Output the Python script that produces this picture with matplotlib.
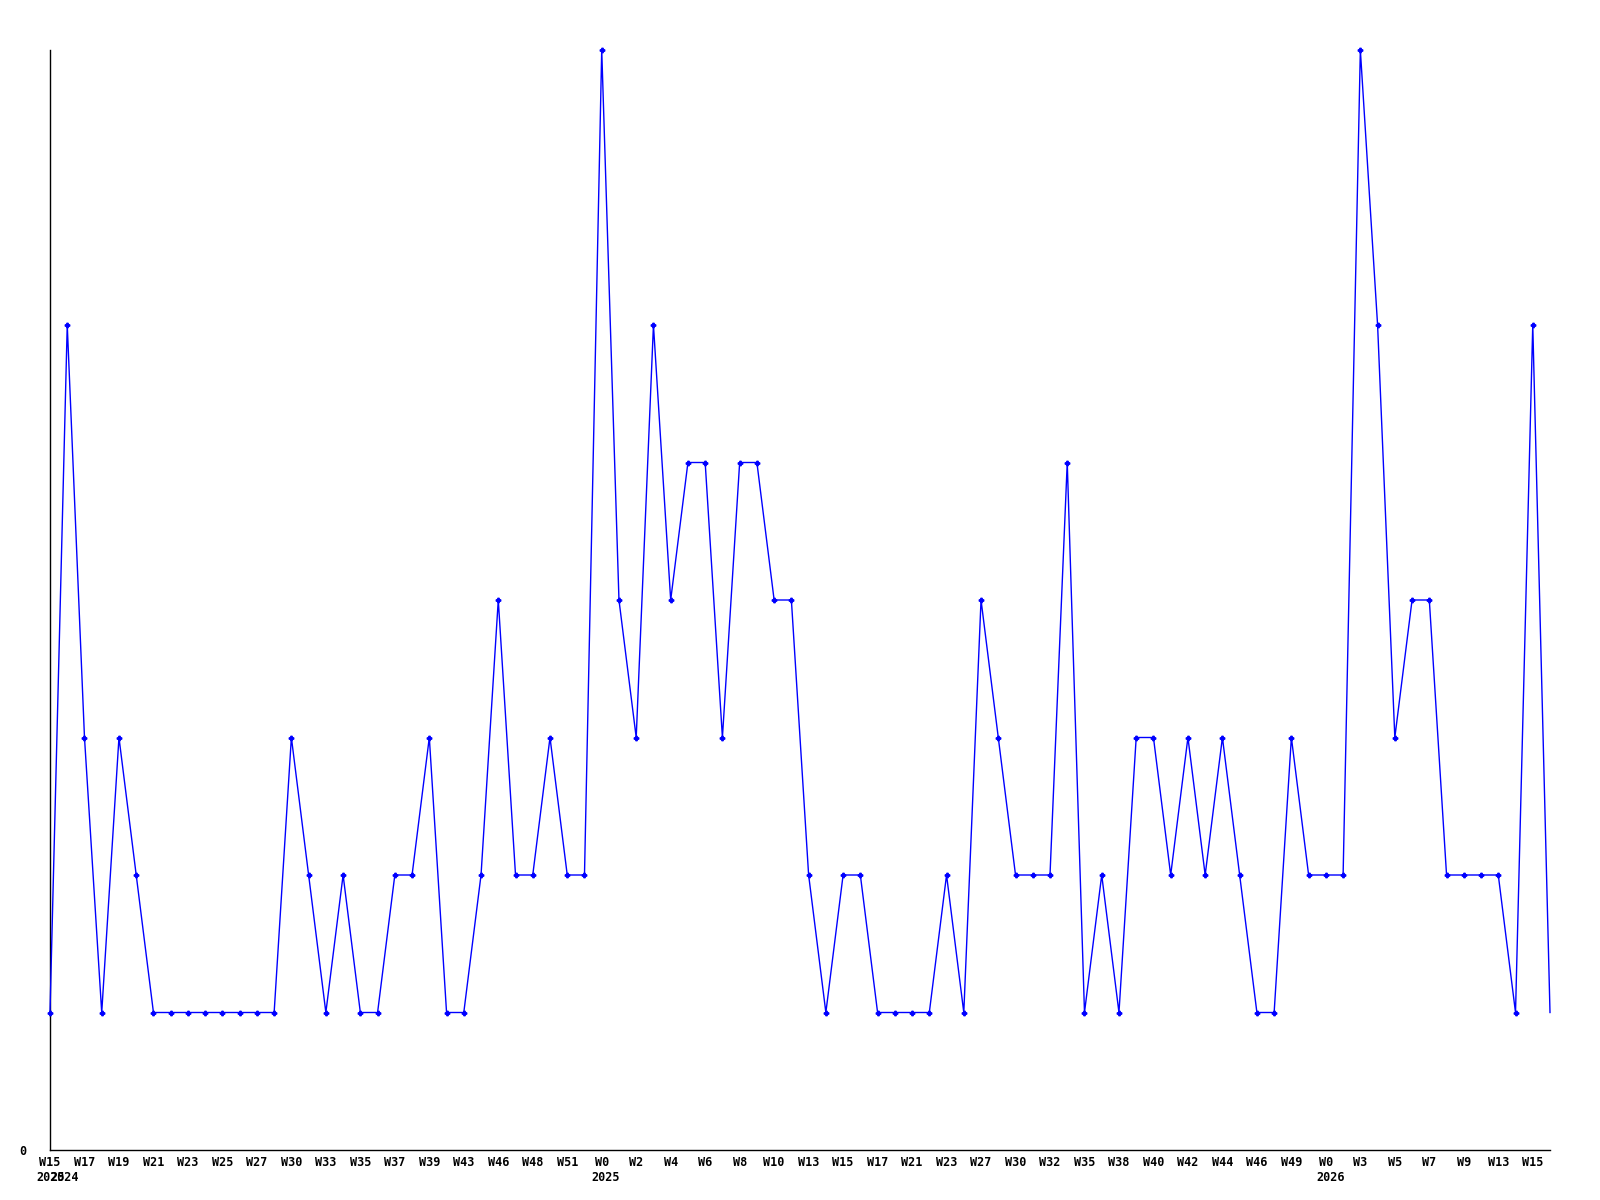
import matplotlib
matplotlib.use('Agg')
import matplotlib.pyplot as plt

# weekly counts (one point per week, last point is the running week)
values = [1, 6, 3, 1, 3, 2, 1, 1, 1, 1,
          1, 1, 1, 1, 3, 2, 1, 2, 1, 1,
          2, 2, 3, 1, 1, 2, 4, 2, 2, 3,
          2, 2, 8, 4, 3, 6, 4, 5, 5, 3,
          5, 5, 4, 4, 2, 1, 2, 2, 1, 1,
          1, 1, 2, 1, 4, 3, 2, 2, 2, 5,
          1, 2, 1, 3, 3, 2, 3, 2, 3, 2,
          1, 1, 3, 2, 2, 2, 8, 6, 3, 4,
          4, 2, 2, 2, 2, 1, 6, 1]

week_labels = ['W15', 'W17', 'W19', 'W21', 'W23', 'W25', 'W27', 'W30', 'W33', 'W35',
               'W37', 'W39', 'W43', 'W46', 'W48', 'W51', 'W0', 'W2', 'W4', 'W6',
               'W8', 'W10', 'W13', 'W15', 'W17', 'W21', 'W23', 'W27', 'W30', 'W32',
               'W35', 'W38', 'W40', 'W42', 'W44', 'W46', 'W49', 'W0', 'W3', 'W5',
               'W7', 'W9', 'W13', 'W15']

# (label index, year text, offset in characters)
year_marks = [(0, '2025', 0), (0, '2024', 2), (16, '2025', 0), (37, '2026', 0)]

FONT = dict(family='DejaVu Sans Mono', weight='bold', size=8.5)
CHAR_PT = 8.5 * 0.602

x = list(range(len(values)))
tick_pos = [2 * i for i in range(len(week_labels))]

fig = plt.figure(figsize=(16, 12), dpi=100, facecolor='white')
ax = fig.add_axes([50 / 1600, 50 / 1200, 1500 / 1600, 1100 / 1200])

ax.plot(x, values, color='#0000ff', linewidth=1.0, marker='P', markersize=3.2,
        markevery=list(range(len(values) - 1)), clip_on=False, zorder=3)

ax.set_xlim(0, len(values) - 1)
ax.set_ylim(0, 8)

ax.spines['top'].set_visible(False)
ax.spines['right'].set_visible(False)
ax.spines['left'].set_linewidth(1.0)
ax.spines['bottom'].set_linewidth(1.0)

ax.set_xticks(tick_pos)
ax.set_xticklabels(week_labels, **FONT)
ax.set_yticks([0])
ax.set_yticklabels(['0'], **FONT)
ax.tick_params(axis='x', length=0, pad=4)
ax.tick_params(axis='y', length=0, pad=17)

for idx, year, shift in year_marks:
    lab = week_labels[idx]
    dx = -len(lab) * CHAR_PT / 2 + shift * CHAR_PT - 2
    ax.annotate(year, xy=(tick_pos[idx], 0), xycoords='data',
                xytext=(dx, -19.5), textcoords='offset points',
                ha='left', va='center', annotation_clip=False, **FONT)

fig.savefig('out.png', dpi=100, facecolor='white')
